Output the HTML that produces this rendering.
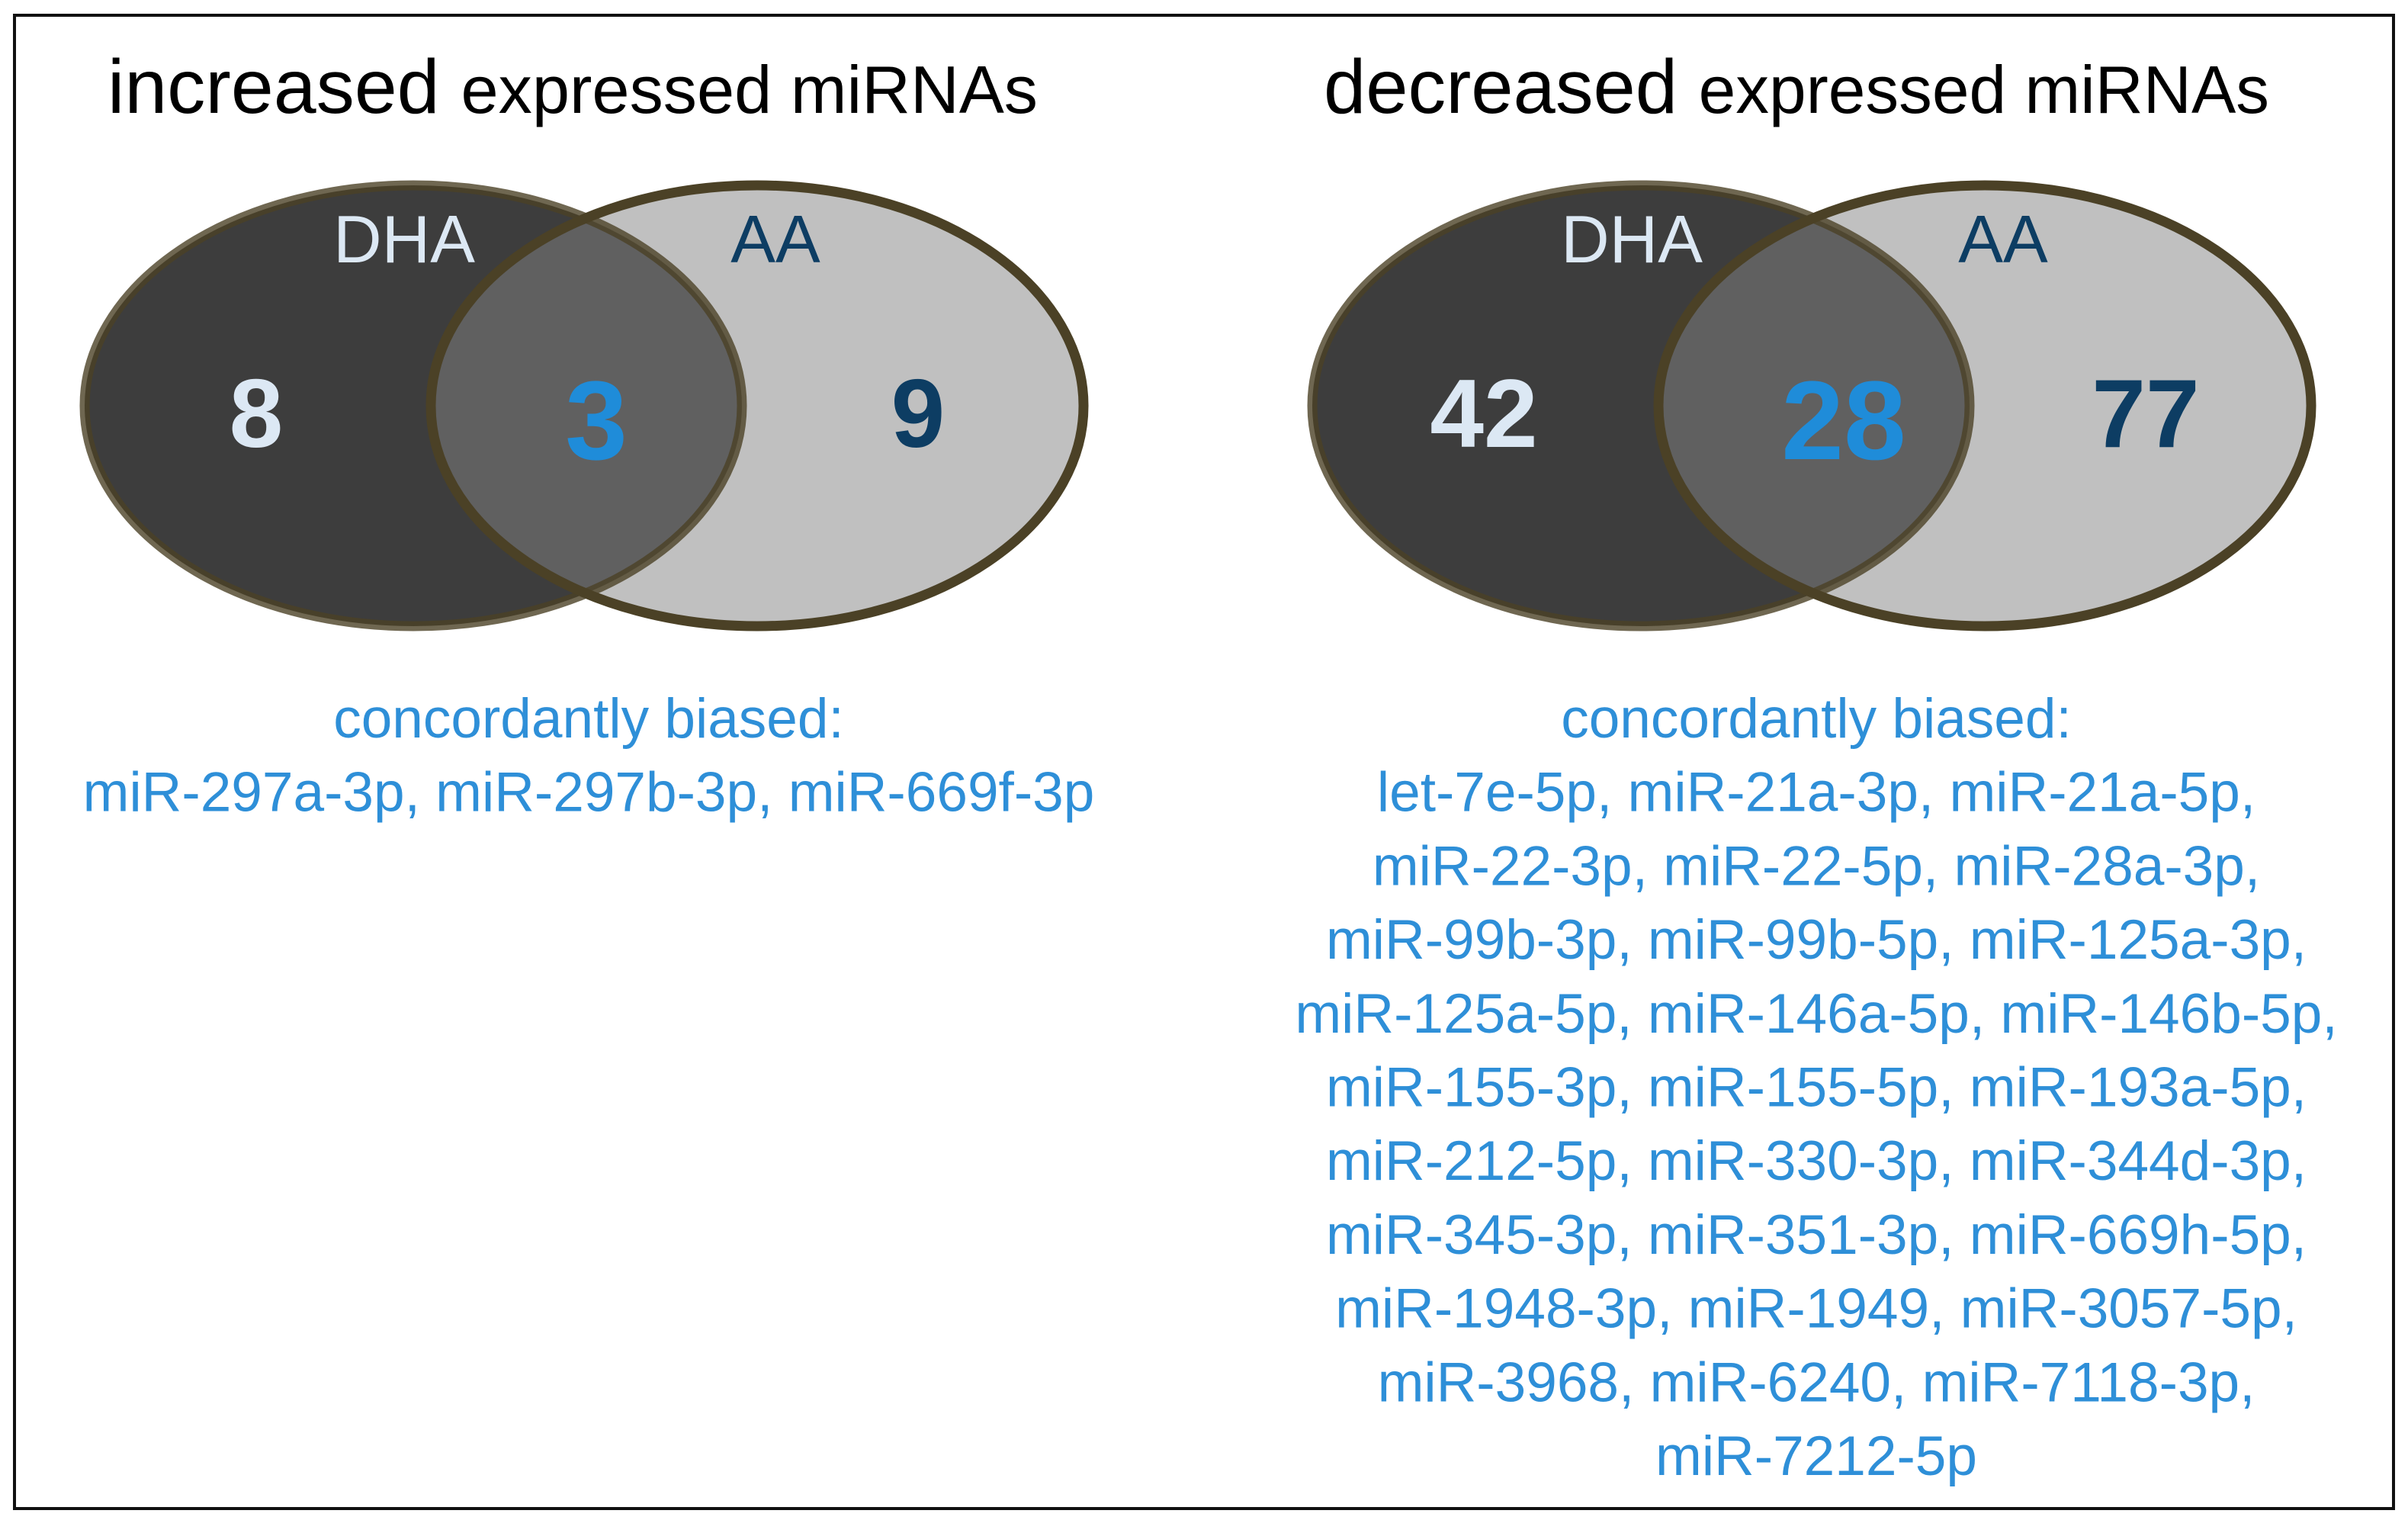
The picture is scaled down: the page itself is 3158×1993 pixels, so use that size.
<!DOCTYPE html>
<html>
<head>
<meta charset="utf-8">
<style>
  html,body{margin:0;padding:0;background:#fff;}
  svg{display:block;}
  text{font-family:"Liberation Sans",sans-serif;}
</style>
</head>
<body>
<svg id="chart" width="3158" height="1993" viewBox="0 0 3158 1993" xmlns="http://www.w3.org/2000/svg">
  <rect x="0" y="0" width="3158" height="1993" fill="#ffffff"/>
  <rect x="19" y="20" width="3120" height="1958" fill="none" stroke="#111" stroke-width="4"/>
  <g id="panels"></g>
</svg>
<script>
const panelTitles = ["increased", "decreased"];
const dhaOnly = [8, 42];
const shared = [3, 28];
const aaOnly = [9, 77];
const sharedLists = [
  ["miR-297a-3p, miR-297b-3p, miR-669f-3p"],
  ["let-7e-5p, miR-21a-3p, miR-21a-5p,",
   "miR-22-3p, miR-22-5p, miR-28a-3p,",
   "miR-99b-3p, miR-99b-5p, miR-125a-3p,",
   "miR-125a-5p, miR-146a-5p, miR-146b-5p,",
   "miR-155-3p, miR-155-5p, miR-193a-5p,",
   "miR-212-5p, miR-330-3p, miR-344d-3p,",
   "miR-345-3p, miR-351-3p, miR-669h-5p,",
   "miR-1948-3p, miR-1949, miR-3057-5p,",
   "miR-3968, miR-6240, miR-7118-3p,",
   "miR-7212-5p"]
];

const NS = "http://www.w3.org/2000/svg";
const root = document.getElementById("panels");
function mk(tag, attrs, parent) {
  const el = document.createElementNS(NS, tag);
  for (const k in attrs) el.setAttribute(k, attrs[k]);
  parent.appendChild(el);
  return el;
}
const defs = mk("defs", {}, document.getElementById("chart"));

panelTitles.forEach((title, i) => {
  const dx = i * 1610;
  const g = mk("g", {}, root);
  
  

  const t = mk("text", {x: (i === 0 ? 141 : 1736), y: 148, fill: "#000", textLength: (i === 0 ? 1220 : 1240), lengthAdjust: "spacingAndGlyphs"}, g);
  
  
  const t1 = mk("tspan", {"font-size": 100}, t); t1.textContent = title + " ";
  const t2 = mk("tspan", {"font-size": 88}, t); t2.textContent = "expressed miRNAs";

  const dcx = 542 + dx, acx = 993 + dx, cy = 532, rx = 431, ry = 289;
  const e1 = mk("ellipse", {cx: dcx, cy: cy, rx: rx, ry: ry, fill: "#3d3d3d"}, g);
  
  
  const e2 = mk("ellipse", {cx: acx, cy: cy, rx: rx - 3, ry: ry, fill: "#c0c0c0"}, g);
  
  
  const cp = mk("clipPath", {id: "clipD" + i}, defs);
  mk("ellipse", {cx: dcx, cy: cy, rx: rx, ry: ry}, cp);
  const ov = mk("ellipse", {cx: acx, cy: cy, rx: rx - 3, ry: ry, fill: "#606060", "clip-path": "url(#clipD" + i + ")"}, g);
  
  
  const s1 = mk("ellipse", {cx: dcx, cy: cy, rx: rx, ry: ry, fill: "none", stroke: "#4b4126", "stroke-width": 13, "stroke-opacity": 0.8}, g);
  
  
  const s2 = mk("ellipse", {cx: acx, cy: cy, rx: rx - 3, ry: ry, fill: "none", stroke: "#4b4126", "stroke-width": 13}, g);
  
  

  const l1 = mk("text", {x: 530 + dx, y: 344, "font-size": 88, fill: "#dce8f4", "text-anchor": "middle"}, g);
  l1.textContent = "DHA";
  
  
  const l2 = mk("text", {x: 1017 + dx, y: 344, "font-size": 88, fill: "#0d3d63", "text-anchor": "middle"}, g);
  l2.textContent = "AA";
  
  

  const n1 = mk("text", {x: 336 + dx, y: 586, "font-size": 127, "font-weight": "bold", fill: "#dce8f4", "text-anchor": "middle"}, g);
  n1.textContent = dhaOnly[i];
  
  
  const n2 = mk("text", {x: (i === 0 ? 782 : 2418), y: 602, "font-size": 147, "font-weight": "bold", fill: "#1f8cd9", "text-anchor": "middle"}, g);
  n2.textContent = shared[i];
  
  
  const n3 = mk("text", {x: 1204 + dx, y: 586, "font-size": 127, "font-weight": "bold", fill: "#0d3d63", "text-anchor": "middle"}, g);
  n3.textContent = aaOnly[i];
  
  

  const cx = i === 0 ? 772 : 2382;
  const lines = ["concordantly biased:"].concat(sharedLists[i]);
  lines.forEach((ln, j) => {
    const tx = mk("text", {x: cx, y: 967 + j * 96.7, "font-size": 73, fill: "#2e8fd8", "text-anchor": "middle"}, g);
    tx.textContent = ln;
    
    
  });
});
</script>
</body>
</html>
